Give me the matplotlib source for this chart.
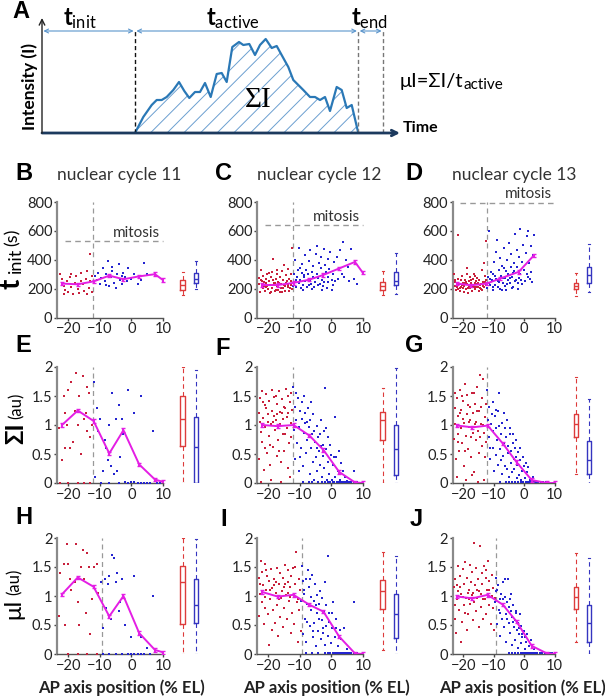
import numpy as np
import matplotlib
matplotlib.use("Agg")
from matplotlib import pyplot as plt

plt.rcParams['font.family'] = ['Lato', 'DejaVu Sans']
plt.rcParams['mathtext.fontset'] = 'custom'
plt.rcParams['mathtext.rm'] = 'Lato'
plt.rcParams['mathtext.bf'] = 'Lato:bold'
plt.rcParams['mathtext.it'] = 'Lato:italic'
plt.rcParams['hatch.linewidth'] = 0.7

# ---- panel A : schematic intensity trace ----
trace_t = [93, 101.3, 109.7, 114.7, 119.7, 124.7, 131.3, 137, 142.3, 147.3, 153, 158, 163,
           168.7, 174.7, 179.7, 184.7, 190.3, 197, 201.3, 207.3, 213, 218, 223.7, 229.7,
           234.7, 241.3, 246.3, 251.3, 256.3, 261.3, 268, 273, 278, 283, 288, 294.7,
           299.7, 304.7, 309.7, 316.3]
trace_i = [0, 16, 28, 33, 33, 36, 43, 51, 42, 35, 41, 41, 50, 36, 59, 60, 51, 86, 91, 88,
           89, 78, 88, 94, 85, 87, 75, 66, 53, 48, 43, 36, 36, 33, 36, 22, 46, 43, 25, 28, 0]
t_start, t_stop, t_end = 93, 316.3, 341

# ---- binned means (magenta) ----
bins_x = [-22, -17, -12, -7, -2.5, 2.5, 7.5, 10]
bins_x3 = [-22, -17.5, -12.3, -7.9, -1.8, 3.2]
b_mean = [235, 230, 250, 290, 265, 285, 300, 260]
c_mean = [225, 225, 240, 262, 295, 340, 385, 310]
d_mean = [235, 223, 235, 270, 316, 430]
e_mean = [1.0, 1.25, 1.07, 0.51, 0.91, 0.32, 0.06, 0.02]
f_mean = [1.0, 0.98, 1.0, 0.82, 0.57, 0.19, 0.01, 0.0]
g_mean = [0.99, 0.96, 0.99, 0.68, 0.36, 0.05, 0.0, 0.0]
h_mean = [1.03, 1.32, 1.16, 0.65, 1.0, 0.36, 0.07, 0.03]
i_mean = [1.07, 0.99, 1.02, 0.85, 0.73, 0.3, 0.01, 0.0]
j_mean = [0.99, 0.96, 1.02, 0.85, 0.56, 0.14, 0.01, 0.0]

# ---- box summaries: (q1, median, q3, whisker low, whisker high) ----
b_box = [(188, 228, 263, 157, 318), (240, 270, 305, 198, 388)]
c_box = [(188, 216, 247, 157, 322), (223, 251, 318, 164, 447)]
d_box = [(200, 221, 242, 146, 306), (242, 294, 353, 176, 510)]
e_box = [(0.63, 1.11, 1.5, 0, 2.0), (0, 0.62, 1.14, 0, 1.94)]
f_box = [(0.74, 1.09, 1.22, 0, 1.63), (0.14, 0.59, 1.0, 0, 1.98)]
g_box = [(0.79, 1.02, 1.19, 0.16, 1.82), (0.15, 0.39, 0.72, 0, 1.45)]
h_box = [(0.52, 1.25, 1.52, 0, 2.0), (0.53, 0.84, 1.3, 0, 1.98)]
i_box = [(0.77, 1.09, 1.28, 0.07, 1.76), (0.28, 0.69, 1.03, 0, 1.69)]
j_box = [(0.78, 0.99, 1.16, 0.2, 1.74), (0.2, 0.53, 0.84, 0, 1.66)]

# ---- single nuclei (x = AP position, y = value) ----
b_red = [(-22.5,300),(-22,270),(-21.5,220),(-21,190),(-20.5,250),(-20,175),(-19.5,280),(-19,210),
         (-18.5,160),(-18,240),(-17.5,290),(-17,200),(-16.5,170),(-16,310),(-15.5,230),(-15,185),
         (-14.5,265),(-14,320),(-14,160),(-13.5,205),(-13,250),(-13,440),(-12.5,180),(-12.5,290),
         (-21.5,160),(-19,300),(-16,255)]
b_blue = [(-11.5,290),(-11,260),(-10.5,310),(-10,230),(-9.5,275),(-9,340),(-8.5,250),(-8,300),
          (-7.5,390),(-7,215),(-6.5,280),(-6,320),(-5.5,240),(-5,205),(-4.5,300),(-4,370),
          (-3.5,260),(-3,230),(-2.5,310),(-2,280),(-1.5,250),(-1,340),(0,270),(1,300),(2,230),
          (3,260),(4,375),(5,300),(-8,225),(-6,350),(-3,290)]
c_red = [(-23.1,232),(-22.7,178),(-22.4,331),(-22.2,262),(-21.8,203),(-21.6,288),(-21.3,243),
         (-21.1,186),(-20.8,268),(-20.6,214),(-20.3,302),(-20.1,196),(-19.9,252),(-19.6,171),
         (-19.4,226),(-19.2,281),(-18.9,207),(-18.7,312),(-18.4,408),(-18.3,238),(-17.9,184),
         (-17.7,267),(-17.4,221),(-17.2,298),(-16.9,193),(-16.8,249),(-16.4,176),(-16.2,283),
         (-15.9,231),(-15.7,322),(-15.4,204),(-15.2,258),(-14.9,362),(-14.8,187),(-14.4,241),
         (-14.3,291),(-13.9,209),(-13.7,336),(-13.4,182),(-13.3,266),(-12.9,228),(-12.8,302),
         (-12.6,478),(-12.5,199),(-12.7,254),(-22.1,228),(-20.4,216),(-18.1,231),(-16.1,202),
         (-14.1,256),(-19.1,176),(-17.1,331),(-15.1,223),(-13.1,201),(-22.9,272),(-21.4,215),
         (-20.7,240),(-19.7,305),(-18.6,262),(-17.6,190),(-16.6,236),(-15.6,178),(-14.6,215),
         (-13.6,228),(-21.9,255),(-17.8,242)]
c_blue = [(-12.1,221),(-11.9,302),(-11.6,248),(-11.4,398),(-11.2,212),(-10.9,283),(-10.7,331),
          (-10.4,238),(-10.2,482),(-9.9,262),(-9.7,203),(-9.4,309),(-9.2,372),(-8.9,228),
          (-8.7,279),(-8.4,431),(-8.2,252),(-7.9,327),(-7.7,211),(-7.4,298),(-7.2,392),(-6.9,258),
          (-6.7,468),(-6.4,232),(-6.2,318),(-5.9,281),(-5.7,358),(-5.4,212),(-5.2,247),(-4.9,441),
          (-4.7,301),(-4.4,498),(-4.2,272),(-3.9,378),(-3.7,231),(-3.4,342),(-3.2,418),(-2.9,261),
          (-2.7,302),(-2.4,472),(-2.2,248),(-1.9,362),(-1.7,318),(-1.4,201),(-1.2,402),(-0.9,279),
          (-0.6,338),(-0.3,452),(0.1,262),(0.4,298),(0.8,381),(1.3,252),(1.8,418),(2.3,332),
          (2.9,468),(3.6,522),(4.1,282),(4.7,398),(5.3,351),(6.2,472),(7.1,268),(8.1,232),
          (-9.1,192),(-6.1,196),(-3.1,188),(0.2,191),(-11.3,262),(-10.1,345),(-8.6,296),
          (-7.1,228),(-5.6,275),(-4.1,225),(-2.6,215),(-1.1,245),(0.6,225),(2.1,270),(3.3,300),
          (5.6,255)]
d_red = [(-23.1,302),(-22.9,221),(-22.6,248),(-22.4,192),(-22.1,212),(-21.9,268),(-21.6,572),
         (-21.4,231),(-21.2,181),(-20.9,262),(-20.7,209),(-20.4,288),(-20.2,241),(-19.9,176),
         (-19.7,219),(-19.4,262),(-19.2,196),(-18.9,301),(-18.7,229),(-18.4,171),(-18.2,251),
         (-17.9,279),(-17.7,206),(-17.4,239),(-17.2,186),(-16.9,266),(-16.7,224),(-16.4,298),
         (-16.2,194),(-15.9,252),(-15.7,214),(-15.4,276),(-15.2,239),(-14.9,181),(-14.7,261),
         (-14.4,204),(-14.2,231),(-13.9,328),(-13.7,191),(-13.4,249),(-13.2,209),(-13.1,378),
         (-12.9,286),(-12.6,528),(-12.7,226),(-12.4,258),(-22.2,239),(-20.1,201),(-18.1,216),
         (-16.1,236),(-14.1,199),(-19.1,249),(-17.1,221),(-15.1,209),(-21.1,204),(-13.3,241),
         (-22.8,262),(-21.7,195),(-20.6,228),(-19.6,240),(-18.6,205),(-17.6,258),(-16.6,212),
         (-15.6,232),(-14.6,222),(-13.6,215),(-12.8,248),(-16.3,285),(-18.8,345)]
d_blue = [(-12.1,201),(-11.9,282),(-11.6,238),(-11.4,598),(-11.2,222),(-10.9,318),(-10.7,262),
          (-10.4,188),(-10.2,302),(-9.9,382),(-9.7,228),(-9.4,452),(-9.2,268),(-8.9,538),
          (-8.7,212),(-8.4,332),(-8.2,248),(-7.9,412),(-7.7,288),(-7.4,192),(-7.2,358),(-6.9,238),
          (-6.7,482),(-6.4,272),(-6.2,218),(-5.9,322),(-5.7,398),(-5.4,258),(-5.2,302),(-4.9,518),
          (-4.7,238),(-4.4,352),(-4.2,438),(-3.9,282),(-3.7,212),(-3.4,378),(-3.2,322),(-2.9,578),
          (-2.7,262),(-2.4,468),(-2.2,348),(-1.9,242),(-1.7,422),(-1.4,298),(-1.2,612),(-0.9,258),
          (-0.7,382),(-0.4,502),(-0.1,328),(0.2,252),(0.6,448),(0.9,562),(1.2,278),(1.4,602),
          (1.7,378),(2.1,318),(2.3,498),(2.6,248),(2.8,432),(3.1,572),(-10.1,212),(-8.1,198),
          (-6.1,192),(-4.1,202),(-2.1,198),(-11.1,265),(-9.6,290),(-8.6,255),(-7.1,275),
          (-5.6,232),(-4.6,275),(-3.1,255),(-1.6,275),(-0.6,230),(0.8,300),(1.9,265),(-6.6,345),
          (-3.6,310)]
e_red = [(-23,0.95),(-22,0.4),(-21.5,1.5),(-21,0.6),(-20.5,1.0),(-20,1.6),(-19.5,0.6),(-19,1.75),
         (-18,1.25),(-17.5,1.9),(-17,1.0),(-16.5,1.5),(-16,0.5),(-15.5,1.85),(-15,1.1),(-14.5,1.2),
         (-14,1.65),(-13.5,1.55),(-13,0.8),(-12.5,1.0),(-14,0.9),(-18.5,0.7),(-22.5,0),(-20,0),
         (-17,0),(-15,0),(-13,0),(-21,1.2)]
e_blue = [(-12,1.75),(-11.5,0.1),(-11,1.3),(-10.5,0.9),(-10,1.1),(-9,0.2),(-8.5,0.75),(-8,0.6),
          (-7.5,0.4),(-7,1.0),(-6.5,0.3),(-6,1.55),(-5.5,0.15),(-5,1.1),(-4.5,0.2),(-4,1.35),
          (-3.5,0.45),(-3,1.1),(-2.5,0.85),(-1,1.6),(1,1.2),(3,1.5),(7,0.9),(-9.5,0),(-7,0),(-4,0),
          (-1,0),(0,0.02),(1,0.02),(2,0),(3,0),(4,0),(5,0),(6,0),(8,0),(9,0),(-2,0.02)]
f_red = [(-23.1,1.21),(-22.9,0.42),(-22.6,1.46),(-22.4,0.88),(-22.1,1.58),(-21.9,0.71),
         (-21.6,1.12),(-21.4,0.22),(-21.2,1.34),(-20.9,0.96),(-20.7,1.54),(-20.4,0.52),
         (-20.2,1.19),(-19.9,0.81),(-19.7,1.41),(-19.4,0.31),(-19.2,1.01),(-18.9,1.61),
         (-18.7,1.24),(-18.4,0.62),(-18.2,1.49),(-17.9,0.91),(-17.7,1.09),(-17.4,0.46),
         (-17.2,1.36),(-16.9,0.74),(-16.7,1.59),(-16.4,1.02),(-16.2,1.22),(-15.9,0.36),
         (-15.7,1.44),(-15.4,0.84),(-15.2,1.11),(-14.9,0.56),(-14.7,1.29),(-14.4,1.62),
         (-14.2,0.94),(-13.9,0.26),(-13.7,1.21),(-13.4,0.69),(-13.2,1.39),(-12.9,1.04),
         (-12.7,0.79),(-12.5,1.26),(-22.2,0.02),(-19.1,0.06),(-16.1,0.01),(-13.1,0.11),
         (-20.1,1.06),(-17.1,1.19),(-15.1,1.31),(-21.1,0.61),(-18.1,1.16),(-14.1,1.14),
         (-22.8,1.05),(-21.7,1.4),(-20.6,1.3),(-19.6,0.65),(-18.6,1.05),(-17.6,1.5),(-16.6,0.55),
         (-15.6,1.2),(-14.6,0.85),(-13.6,1.5),(-12.8,1.55)]
f_blue = [(-12.1,1.66),(-11.9,0.91),(-11.6,1.31),(-11.4,0.41),(-11.2,1.09),(-10.9,0.69),
          (-10.7,1.46),(-10.4,0.21),(-10.2,0.96),(-9.9,1.24),(-9.7,0.61),(-9.4,1.11),(-9.2,1.39),
          (-8.9,0.29),(-8.7,0.86),(-8.4,1.04),(-8.2,1.21),(-7.9,0.51),(-7.7,0.74),(-7.4,1.29),
          (-7.2,0.96),(-6.9,0.16),(-6.7,1.09),(-6.4,0.61),(-6.2,0.84),(-5.9,0.36),(-5.7,1.19),
          (-5.4,0.06),(-5.2,0.71),(-4.9,0.44),(-4.7,0.99),(-4.4,0.21),(-4.2,0.79),(-3.9,0.56),
          (-3.7,0.31),(-3.4,1.09),(-3.2,0.64),(-2.9,0.11),(-2.7,0.46),(-2.4,0.89),(-2.2,0.26),
          (-1.9,1.64),(-1.7,0.59),(-1.4,0.06),(-1.2,0.36),(-0.9,0.79),(-0.6,0.16),(-0.2,0.49),
          (0.1,0.06),(0.6,0.31),(1.1,1.14),(1.3,0.11),(1.6,0.44),(2.1,0.21),(2.6,0.06),(3.1,0.34),
          (4.2,0.11),(5.1,0.04),(7.2,0.21),(-9.1,0.01),(-7.1,0.01),(-6.1,0.02),(-4.1,0.01),
          (-3.1,0.01),(-2.1,0.01),(-1.1,0.01),(-0.4,0.01),(0.4,0.01),(0.9,0.01),(1.7,0.01),
          (2.3,0.01),(2.8,0.01),(3.4,0.01),(3.8,0.01),(4.4,0.01),(4.9,0.01),(5.6,0.01),(6.3,0.01),
          (7.1,0.01),(8.2,0.01),(-11.1,1.55),(-10.1,0.45),(-8.6,1.5),(-7.6,1.05),(-6.6,1.4),
          (-5.6,0.9),(-4.6,0.6),(-3.6,0.85),(-2.6,0.65),(-1.6,0.95),(-0.4,0.65),(0.9,0.45),
          (2.4,0.55),(3.6,0.2)]
g_red = [(-23.1,0.76),(-22.9,1.29),(-22.6,1.01),(-22.4,0.41),(-22.1,1.46),(-21.9,0.84),
         (-21.6,1.16),(-21.4,0.56),(-21.2,1.61),(-20.9,0.94),(-20.7,1.26),(-20.4,0.69),
         (-20.2,1.41),(-19.9,0.29),(-19.7,1.04),(-19.4,1.71),(-19.2,0.81),(-18.9,1.19),
         (-18.7,1.51),(-18.4,0.59),(-18.2,0.96),(-17.9,1.31),(-17.7,1.09),(-17.4,0.44),
         (-17.2,1.56),(-16.9,0.86),(-16.7,1.21),(-16.4,0.19),(-16.2,1.36),(-15.9,0.74),
         (-15.7,1.06),(-15.4,1.66),(-15.2,0.89),(-14.9,0.51),(-14.7,1.24),(-14.4,1.86),
         (-14.2,1.01),(-13.9,0.64),(-13.7,1.46),(-13.4,1.79),(-13.2,0.86),(-12.9,1.14),
         (-12.7,1.36),(-12.5,0.71),(-22.2,0.11),(-19.1,0.06),(-17.1,0.13),(-15.1,0.02),
         (-13.1,0.06),(-20.1,1.11),(-18.1,1.06),(-16.1,1.01),(-14.1,1.31),(-21.1,1.21),
         (-22.8,1.55),(-21.7,0.7),(-20.6,1.5),(-19.6,0.55),(-18.6,1.35),(-17.6,0.8),(-16.6,1.55),
         (-15.6,1.25),(-14.6,0.8),(-13.6,1.0),(-12.8,0.45)]
g_blue = [(-12.1,1.61),(-11.9,1.09),(-11.6,0.79),(-11.4,1.31),(-11.2,0.41),(-10.9,1.01),
          (-10.7,1.19),(-10.4,0.61),(-10.2,0.89),(-9.9,0.21),(-9.7,1.16),(-9.4,0.49),(-9.2,1.26),
          (-8.9,0.74),(-8.7,0.31),(-8.4,0.99),(-8.2,1.56),(-7.9,0.59),(-7.7,0.84),(-7.4,0.16),
          (-7.2,1.04),(-6.9,0.46),(-6.7,0.69),(-6.4,0.94),(-6.2,0.29),(-5.9,0.79),(-5.7,1.09),
          (-5.4,0.51),(-5.2,0.64),(-4.9,0.11),(-4.7,0.84),(-4.4,0.34),(-4.2,0.56),(-3.9,0.19),
          (-3.7,0.69),(-3.4,0.41),(-3.2,0.24),(-2.9,0.61),(-2.7,0.44),(-2.4,0.09),(-2.2,0.31),
          (-1.9,0.54),(-1.6,0.14),(-1.2,0.39),(-0.9,0.06),(-0.6,0.21),(-0.1,0.29),(0.4,0.09),
          (0.9,0.19),(1.9,0.06),(2.9,0.11),(-8.1,0.01),(-6.1,0.02),(-5.1,0.01),(-4.1,0.01),
          (-3.1,0.01),(-2.1,0.01),(-1.1,0.01),(-0.3,0.01),(0.6,0.01),(1.1,0.01),(1.6,0.01),
          (2.2,0.01),(2.7,0.01),(3.3,0.01),(3.9,0.01),(4.6,0.01),(5.4,0.01),(6.2,0.01),(7.1,0.01),
          (-11.1,0.6),(-10.1,1.4),(-9.1,0.95),(-8.6,1.25),(-7.6,0.4),(-6.6,1.2),(-5.6,0.25),
          (-4.6,0.95),(-3.6,0.85),(-2.6,0.75),(-1.4,0.6),(-0.4,0.45),(0.6,0.35),(1.4,0.28)]
h_red = [(-23,0.65),(-22.5,1.4),(-21.5,1.55),(-21,0.5),(-20.5,1.9),(-20,1.55),(-19.5,1.3),
         (-19,1.1),(-18,1.25),(-17.5,1.9),(-17,0.9),(-16.5,0.5),(-16,1.5),(-15.5,1.8),(-15,1.3),
         (-14.5,0.7),(-14,1.75),(-13.5,1.5),(-13,0.35),(-12.5,0.95),(-12,1.5),(-11,1.55),
         (-10.5,1.05),(-20,0),(-17,0),(-14,0),(-11,0)]
h_blue = [(-9.5,1.25),(-9,0.45),(-8.5,1.3),(-8,0.8),(-7.5,1.2),(-7,1.35),(-6.5,0.6),(-6,1.7),
          (-5.5,1.65),(-5,1.25),(-4.5,1.4),(-4,0.75),(-3.5,0.9),(-3,1.3),(-2,0.5),(0,0.3),(1,1.35),
          (3,0.3),(5,0.1),(7,1.0),(-9,0),(-7,0),(-5,0),(-3,0),(-1,0),(0,0),(1,0),(2,0),(3,0),
          (4,0),(6,0)]
i_red = [(-23.1,1.31),(-22.9,0.66),(-22.6,1.04),(-22.4,1.61),(-22.1,0.89),(-21.9,1.41),
         (-21.6,1.19),(-21.4,0.51),(-21.2,1.56),(-20.9,0.79),(-20.7,1.11),(-20.4,1.34),
         (-20.2,0.69),(-19.9,0.16),(-19.7,1.26),(-19.4,0.94),(-19.2,1.46),(-18.9,0.41),
         (-18.7,1.14),(-18.4,0.76),(-18.2,1.29),(-17.9,0.54),(-17.7,1.06),(-17.4,1.49),
         (-17.2,0.84),(-16.9,0.31),(-16.7,1.21),(-16.4,0.64),(-16.2,1.39),(-15.9,0.96),
         (-15.7,1.09),(-15.4,0.46),(-15.2,1.31),(-14.9,0.79),(-14.7,1.54),(-14.4,1.01),
         (-14.2,0.61),(-13.9,1.24),(-13.7,1.44),(-13.4,0.91),(-13.2,1.16),(-12.9,0.36),
         (-12.7,1.34),(-12.4,0.71),(-12.2,1.49),(-11.9,1.04),(-11.7,0.51),(-11.4,1.21),
         (-11.2,1.76),(-10.9,0.89),(-10.7,0.21),(-10.4,1.29),(-10.2,0.76),(-9.9,1.11),
         (-9.7,0.39),(-21.1,0.99),(-18.1,1.19),(-15.1,1.16),(-13.1,0.99),(-22.7,1.2),
         (-20.6,1.45),(-19.6,1.1),(-17.6,1.25),(-16.6,0.95),(-14.6,1.2),(-13.6,1.05),(-11.6,1.5),
         (-10.6,0.95)]
i_blue = [(-9.4,1.51),(-9.6,0.91),(-9.1,1.26),(-8.9,0.34),(-8.6,1.04),(-8.4,0.61),(-8.1,1.29),
          (-7.9,0.21),(-7.6,0.86),(-7.4,1.44),(-7.1,1.16),(-6.9,0.49),(-6.6,0.76),(-6.4,0.99),
          (-6.1,1.36),(-5.9,0.29),(-5.6,0.91),(-5.4,0.54),(-5.1,1.21),(-4.9,0.14),(-4.6,0.71),
          (-4.4,1.01),(-4.1,0.39),(-3.9,0.86),(-3.6,1.09),(-3.4,0.26),(-3.1,0.59),(-2.9,0.96),
          (-2.6,0.36),(-2.4,0.74),(-2.1,1.24),(-1.9,0.16),(-1.6,0.49),(-1.1,1.69),(-0.9,0.31),
          (-0.6,0.71),(-0.1,0.19),(0.2,0.44),(0.6,0.89),(1.1,0.29),(1.6,0.61),(2.1,0.14),
          (2.6,0.41),(3.1,0.26),(4.1,0.44),(5.1,0.09),(7.1,0.89),(-8.1,0.01),(-6.1,0.01),
          (-4.1,0.01),(-2.1,0.01),(-1.1,0.01),(-0.3,0.01),(0.4,0.01),(0.9,0.01),(1.4,0.01),
          (1.9,0.01),(2.4,0.01),(2.9,0.01),(3.4,0.01),(3.9,0.01),(4.4,0.01),(4.9,0.01),(5.7,0.01),
          (6.4,0.01),(7.3,0.01),(8.1,0.01),(-8.8,1.1),(-7.8,0.55),(-6.8,1.3),(-5.8,0.4),
          (-4.8,0.85),(-3.8,0.6),(-2.8,0.45),(-1.8,0.85),(-0.8,0.55),(0.3,0.7),(1.4,0.45)]
j_red = [(-23.1,1.16),(-22.9,0.61),(-22.6,1.29),(-22.4,0.36),(-22.1,0.94),(-21.9,1.51),
         (-21.6,1.09),(-21.4,0.76),(-21.2,1.34),(-20.9,0.21),(-20.7,1.04),(-20.4,0.56),
         (-20.2,1.46),(-19.9,0.84),(-19.7,1.21),(-19.4,1.59),(-19.2,0.96),(-18.9,0.41),
         (-18.7,1.31),(-18.4,0.69),(-18.2,1.11),(-17.9,1.54),(-17.7,0.86),(-17.4,1.24),
         (-17.2,1.41),(-16.9,0.59),(-16.7,1.06),(-16.4,1.91),(-16.2,1.19),(-15.9,0.74),
         (-15.7,1.49),(-15.4,0.96),(-15.2,1.29),(-14.9,0.46),(-14.7,1.09),(-14.4,1.86),
         (-14.2,0.81),(-13.9,1.39),(-13.7,1.21),(-13.4,0.61),(-13.2,1.51),(-12.9,0.94),
         (-12.7,1.31),(-12.4,0.69),(-12.2,1.11),(-11.9,1.61),(-11.7,0.84),(-11.4,1.26),
         (-11.2,0.99),(-10.9,0.51),(-10.7,1.36),(-10.4,0.79),(-10.2,1.14),(-9.9,0.41),
         (-9.7,0.96),(-20.1,0.99),(-17.1,1.01),(-14.1,1.04),(-22.2,1.19),(-18.1,0.94),
         (-22.7,0.85),(-21.1,1.15),(-19.6,0.7),(-18.6,1.05),(-16.6,0.9),(-15.6,1.1),(-13.6,0.95),
         (-12.6,1.45),(-11.6,1.1),(-10.6,1.0)]
j_blue = [(-9.4,1.31),(-9.6,0.89),(-9.1,1.09),(-8.9,0.51),(-8.6,1.19),(-8.4,0.76),(-8.1,0.94),
          (-7.9,0.31),(-7.6,1.04),(-7.4,0.61),(-7.1,0.84),(-6.9,1.24),(-6.6,0.46),(-6.4,0.99),
          (-6.1,0.69),(-5.9,0.21),(-5.6,0.89),(-5.4,1.29),(-5.1,0.54),(-4.9,0.81),(-4.6,0.36),
          (-4.4,1.04),(-4.1,0.64),(-3.9,0.16),(-3.6,0.84),(-3.4,0.46),(-3.1,0.59),(-2.9,0.24),
          (-2.6,0.74),(-2.4,0.41),(-2.1,0.54),(-1.9,0.11),(-1.6,0.34),(-1.4,0.69),(-1.1,0.19),
          (-0.9,0.49),(-0.6,0.29),(-0.1,0.39),(0.2,0.09),(0.6,0.21),(1.1,0.34),(1.6,0.14),
          (2.1,0.24),(3.1,0.09),(-5.1,0.01),(-4.1,0.02),(-3.1,0.01),(-2.1,0.01),(-1.1,0.01),
          (-0.3,0.01),(0.4,0.01),(0.9,0.01),(1.4,0.01),(1.9,0.01),(2.4,0.01),(2.9,0.01),(3.6,0.01),
          (4.3,0.01),(5.1,0.01),(5.9,0.01),(6.8,0.01),(7.6,0.01),(8.4,0.01),(9.1,0.01),(-8.8,1.1),
          (-7.8,0.7),(-6.8,0.95),(-5.8,0.6),(-4.8,0.95),(-3.8,0.55),(-2.8,0.7),(-1.8,0.45),
          (-0.8,0.35),(0.3,0.3),(-6.3,1.3),(-4.3,0.75)]

cycles = ['nuclear cycle 11', 'nuclear cycle 12', 'nuclear cycle 13']
mitosis_level = [530, 640, 790]
xticks = [-20, -10, 0, 10]

RED = '#c8203c'
BLUE = '#2424d0'
BOXRED = '#dd3b3b'
BOXBLUE = '#3535c0'
MAG = '#e41ee4'
GREY = '#999999'

W, H = 605, 699
fig = plt.figure(figsize=(W / 100, H / 100), dpi=100)


def px_axes(left, top, right, bottom):
    return fig.add_axes([left / W, 1 - bottom / H, (right - left) / W, (bottom - top) / H])


def ftext(x, y, s, **kw):
    return fig.text(x / W, 1 - y / H, s, **kw)


# ---------------- panel A ----------------
axA = px_axes(42, 17, 412, 133)
axA.set_xlim(0, 370)
axA.set_ylim(0, 116)
axA.axis('off')
axA.annotate('', xy=(358, 0), xytext=(0, 0),
             arrowprops=dict(arrowstyle='->', color='#1c3a5e', lw=2, shrinkA=0, shrinkB=0))
axA.annotate('', xy=(0, 115), xytext=(0, 0),
             arrowprops=dict(arrowstyle='->', color='#222222', lw=1, shrinkA=0, shrinkB=0))
axA.fill_between(trace_t, trace_i, 0, facecolor='none', edgecolor='#6b9fd0', hatch='//', lw=0)
axA.plot(trace_t, trace_i, color='#2a78b6', lw=1.6)
axA.plot([t_start, t_start], [0, 102], color='#111111', ls=(0, (3, 2)), lw=1)
axA.plot([t_stop, t_stop], [0, 102], color='#777777', ls=(0, (3, 2)), lw=1)
axA.plot([t_end, t_end], [0, 102], color='#777777', ls=(0, (3, 2)), lw=1)
for a, b in [(0, t_start), (t_start, t_stop), (t_stop, t_end)]:
    axA.annotate('', xy=(a, 102), xytext=(b, 102),
                 arrowprops=dict(arrowstyle='<->', color='#5b95cc', lw=0.8,
                                 shrinkA=1, shrinkB=1, mutation_scale=7))
axA.text(38, 114, r'$\mathbf{t}_{\mathrm{init}}$', fontsize=17, ha='center', va='center')
axA.text(191, 114, r'$\mathbf{t}_{\mathrm{active}}$', fontsize=17, ha='center', va='center')
axA.text(328, 114, r'$\mathbf{t}_{\mathrm{end}}$', fontsize=17, ha='center', va='center')
axA.text(216, 33, 'ΣI', family='Liberation Serif', fontsize=21, ha='center', va='center')
axA.text(361, 5, 'Time', fontsize=11.5, fontweight='bold', ha='left', va='center')
ftext(30, 86, 'Intensity (I)', fontsize=12.5, fontweight='bold', rotation=90,
      ha='center', va='center')
ftext(12, 12, 'A', fontsize=17, fontweight='bold', family='Liberation Sans',
      ha='left', va='center')

# formula: main part, then the subscript placed right after it
form = ftext(400, 87, 'μI=ΣI/t', fontsize=14.5, ha='left', va='baseline')
fig.canvas.draw()
bb = form.get_window_extent()
fig.text(bb.x1 / W, (bb.y0 + 1) / H, 'active', fontsize=11, ha='left', va='baseline')

# ---------------- panels B-J ----------------
col_left = [57.3, 257.3, 452.7]
col_scale = [3.15, 3.15, 3.04]
box_pos = [(16.3, 20.5), (16.3, 20.5), (17, 21.4)]
row_box = [(202, 317.5), (367, 483), (538, 654)]
dash_x = [-12.3, -12.3, -9.3]
mitosis_dy = [55, 53, 68]
xlabel_cx = [121, 326, 522]
XMIN, XMAX = -23.5, 24

panels = [
    [('B', b_red, b_blue, b_mean, b_box), ('C', c_red, c_blue, c_mean, c_box),
     ('D', d_red, d_blue, d_mean, d_box)],
    [('E', e_red, e_blue, e_mean, e_box), ('F', f_red, f_blue, f_mean, f_box),
     ('G', g_red, g_blue, g_mean, g_box)],
    [('H', h_red, h_blue, h_mean, h_box), ('I', i_red, i_blue, i_mean, i_box),
     ('J', j_red, j_blue, j_mean, j_box)],
]
letter_xy = [[(15, 173), (215, 173), (405, 173)],
             [(15, 345), (215, 348), (405, 346)],
             [(15, 518), (220, 519), (410, 519)]]

for r in range(3):
    top, bot = row_box[r]
    ymax = 800 if r == 0 else 2
    for c in range(3):
        letter, red, blue, mean, box = panels[r][c]
        left = col_left[c]
        right = left + (XMAX - XMIN) * col_scale[c]
        ax = px_axes(left, top, right, bot)
        ax.set_xlim(XMIN, XMAX)
        ax.set_ylim(0, ymax)
        for s in ['top', 'right']:
            ax.spines[s].set_visible(False)
        ax.spines['left'].set_color('#8a8a8a')
        ax.spines['left'].set_linewidth(1.6)
        ax.spines['bottom'].set_color('#555555')
        ax.spines['bottom'].set_linewidth(1)
        ax.spines['bottom'].set_bounds(XMIN, 10)
        ax.set_xticks(xticks)
        if r == 0:
            ax.set_yticks([0, 200, 400, 600, 800])
        else:
            ax.set_yticks([0, 0.5, 1, 1.5, 2])
            ax.set_yticklabels(['0', '0.5', '1', '1.5', '2'])
        ax.tick_params(length=2, width=1, color='#444444', labelsize=10.5,
                       labelcolor='#222222', pad=1.5)

        ax.plot([dash_x[r]] * 2, [0, ymax], color=GREY, ls=(0, (4, 3)), lw=0.9)
        if r == 0:
            lvl = mitosis_level[c]
            ax.plot([-21, 10], [lvl, lvl], color=GREY, ls=(0, (4, 3)), lw=1)
            ax.text(1.5, lvl + mitosis_dy[c], 'mitosis', fontsize=11, color='#333333',
                    ha='center', va='center', clip_on=False)

        red = np.array(red)
        blue = np.array(blue)
        ax.scatter(red[:, 0], red[:, 1], s=2, marker='s', color=RED, linewidths=0,
                   clip_on=False, zorder=3)
        ax.scatter(blue[:, 0], blue[:, 1], s=2, marker='s', color=BLUE, linewidths=0,
                   clip_on=False, zorder=3)

        mx = bins_x3 if (r == 0 and c == 2) else bins_x
        err = [ymax * 0.015] * len(mean)
        ax.errorbar(mx, mean, yerr=err, color=MAG, lw=1.4, capsize=1.5, capthick=1,
                    zorder=5)

        for (q1, med, q3, lo, hi), pos, col in zip(box, box_pos[c], [BOXRED, BOXBLUE]):
            st = [dict(q1=q1, med=med, q3=q3, whislo=lo, whishi=hi, fliers=[])]
            ax.bxp(st, positions=[pos], widths=1.4, showfliers=False, manage_ticks=False,
                   boxprops=dict(color=col, lw=1),
                   whiskerprops=dict(color=col, lw=0.8, ls=(0, (4, 3))),
                   capprops=dict(color=col, lw=0.8),
                   medianprops=dict(color=col, lw=1))

        lx, ly = letter_xy[r][c]
        ftext(lx, ly, letter, fontsize=17, fontweight='bold', family='Liberation Sans',
              ha='left', va='center')
        if r == 0:
            ftext(left + 62, 175, cycles[c], fontsize=12.5, color='#333333',
                  ha='center', va='center')
        if r == 2:
            ftext(xlabel_cx[c], 688, 'AP axis position (% EL)', fontsize=12,
                  fontweight='bold', color='#222222', ha='center', va='center')

# y labels
ftext(12, 284, 't', fontsize=20, fontweight='bold', rotation=90, ha='center', va='center')
ftext(16, 260, 'init', fontsize=13, rotation=90, ha='center', va='center')
ftext(13, 237, '(s)', fontsize=13, rotation=90, ha='center', va='center')
ftext(16, 433, 'ΣI', fontsize=17, fontweight='bold', rotation=90, ha='center', va='center')
ftext(17, 406, '(au)', fontsize=12, rotation=90, ha='center', va='center')
ftext(14, 609, 'μI', fontsize=17, rotation=90, ha='center', va='center')
ftext(15, 582, '(au)', fontsize=12, rotation=90, ha='center', va='center')

fig.savefig('out.png', dpi=100)
